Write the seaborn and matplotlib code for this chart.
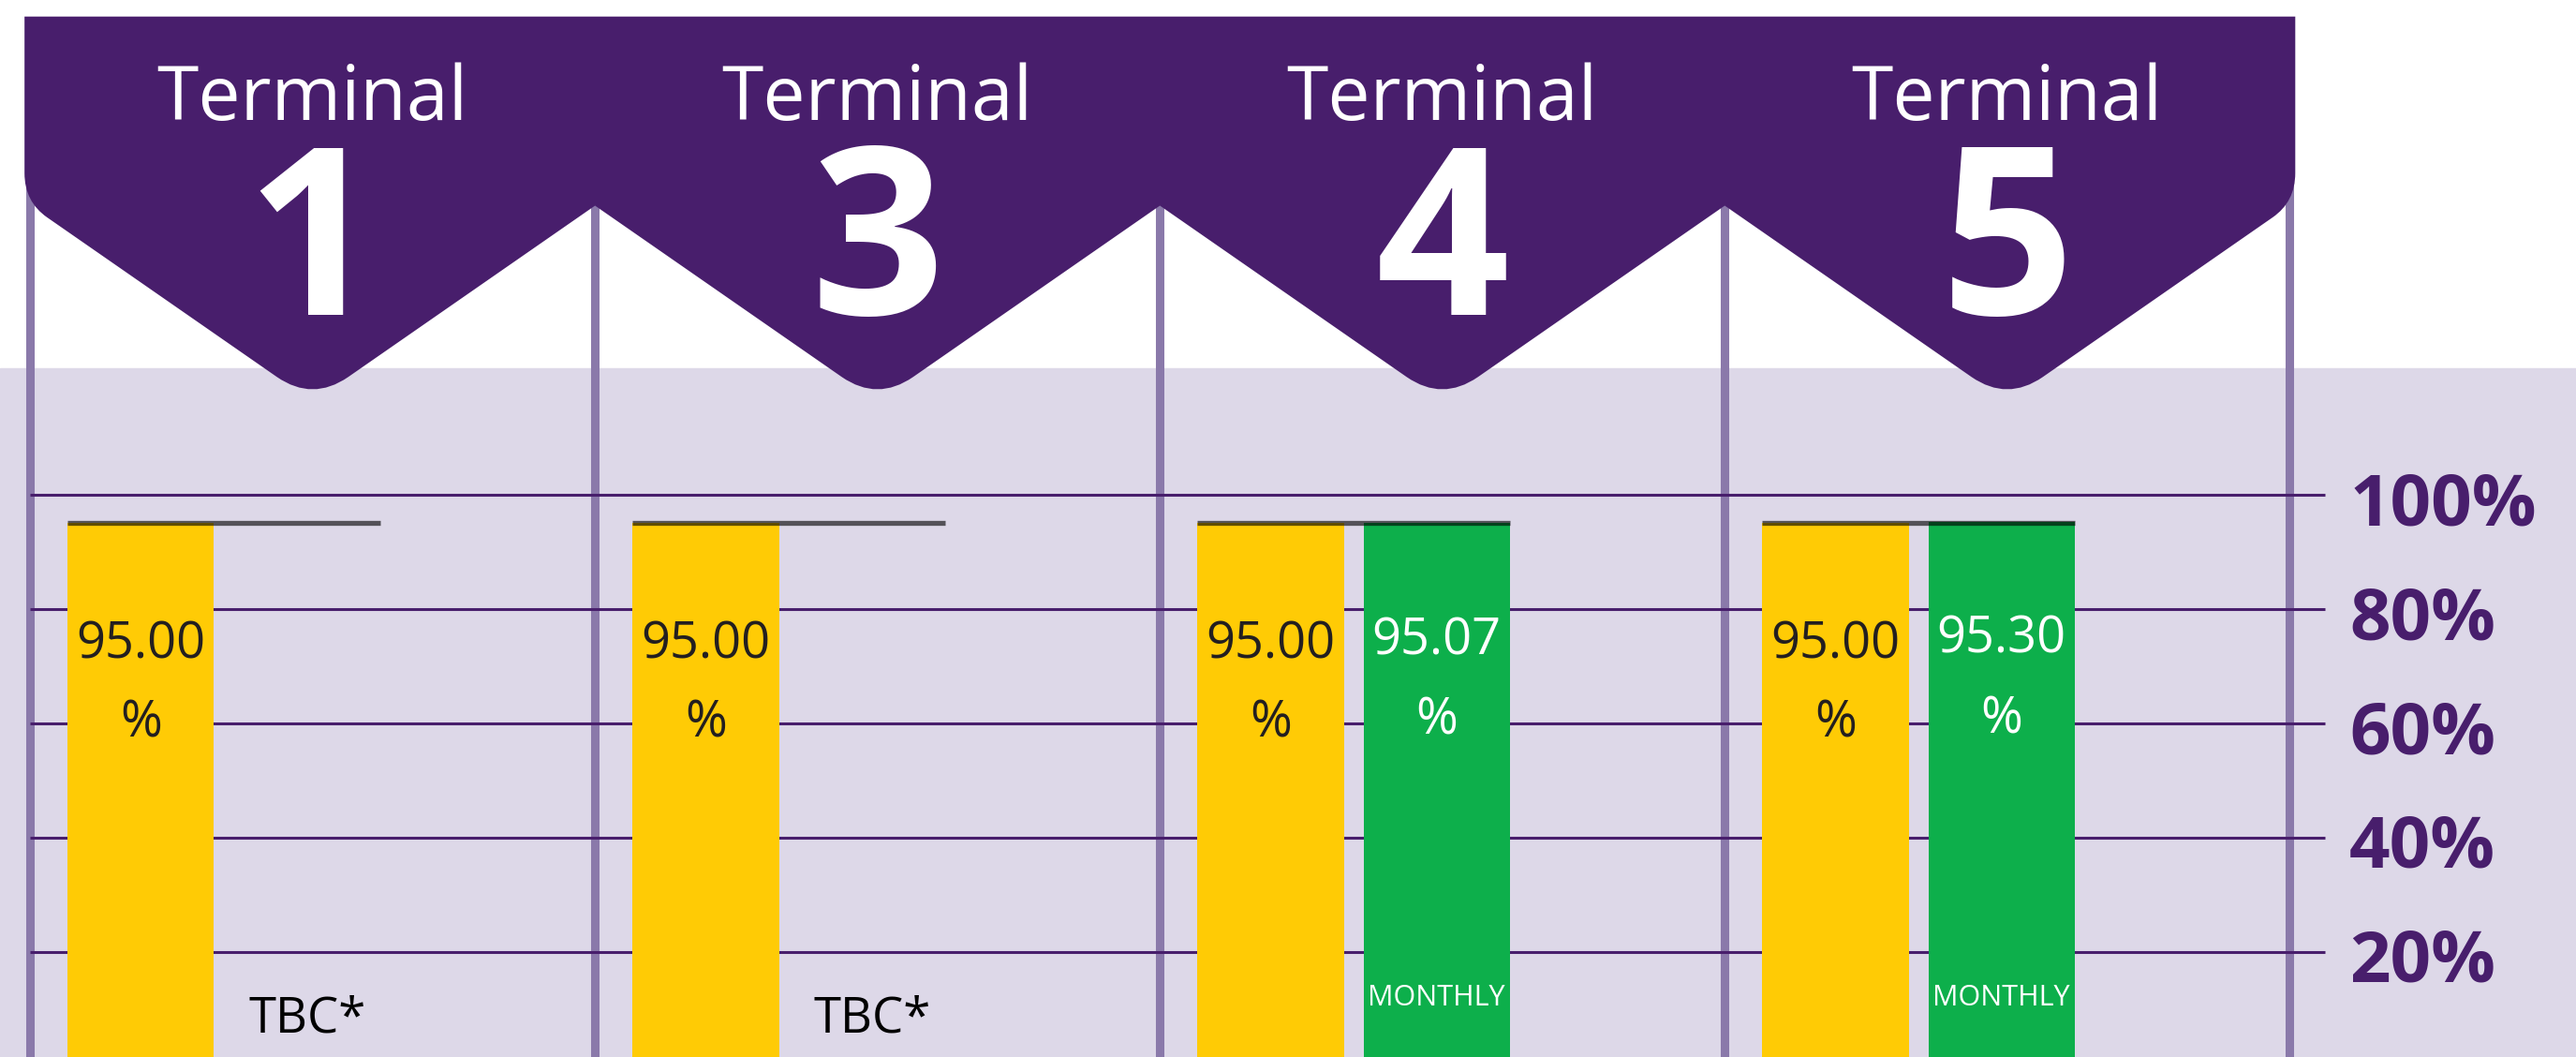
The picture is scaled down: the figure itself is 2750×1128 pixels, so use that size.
import numpy as np
import pandas as pd
import matplotlib.pyplot as plt
import seaborn as sns
from matplotlib.path import Path
from matplotlib.patches import PathPatch
from matplotlib import font_manager

terminals = ["1", "3", "4", "5"]
target_pct = [95.00, 95.00, 95.00, 95.00]
monthly_pct = [np.nan, np.nan, 95.07, 95.30]
target_labels = ["95.00", "95.00", "95.00", "95.00"]
monthly_labels = [None, None, "95.07", "95.30"]
missing_label = "TBC*"
series = ["Target", "Monthly"]
yticks = [20, 40, 60, 80, 100]
ytick_labels = ["20%", "40%", "60%", "80%", "100%"]

purple = "#481e6c"
bg = "#ddd8e8"
sep_col = "#8a79aa"
yellow = "#ffcb05"
green = "#0daf4b"

df = pd.DataFrame({
    "terminal": terminals * 2,
    "series": [series[0]] * len(terminals) + [series[1]] * len(terminals),
    "value": target_pct + monthly_pct,
})

plt.rcParams['font.family'] = ['Open Sans', 'DejaVu Sans']
installed = {f.name for f in font_manager.fontManager.ttflist}
if 'Liberation Sans Narrow' in installed:
    small_font, small_size = 'Liberation Sans Narrow', 25
else:
    small_font, small_size = 'Open Sans', 22

fig = plt.figure(figsize=(27.5, 11.28), dpi=100)
ax = fig.add_axes([0, 0, 1, 1])

sns.barplot(data=df, x="terminal", y="value", hue="series", hue_order=series,
            palette=[yellow, green], saturation=1, width=0.588, gap=0.119,
            errorbar=None, legend=False, ax=ax, zorder=3, linewidth=0)

ax.set_xlim(-0.3964, 4.164)
ax.set_ylim(1.56, 186.6)
ax.axis('off')

# lavender panel behind the chart
ax.axhspan(-10, 122.2, color=bg, zorder=0)

# column separators
seps = [k - 0.343 for k in range(len(terminals) + 1)]
ax.vlines(seps, -10, 155, color=sep_col, lw=6.5, zorder=1)

# gridlines + right hand labels
ax.hlines(yticks, seps[0], 3.72, color=purple, lw=2.2, zorder=1.5)
for t, lab in zip(yticks, ytick_labels):
    ax.text(3.763, t - 5.3, lab, ha='left', va='baseline', fontsize=55,
            fontweight='bold', color=purple)

# target line + labels
for i, p in enumerate(ax.containers[0]):
    left = p.get_x()
    right = 2 * i - left
    cx = left + p.get_width() / 2
    cx2 = 2 * i - cx
    ax.hlines(target_pct[i], left, right, color='black', alpha=0.62, lw=3.8, zorder=4)
    ax.text(cx, target_pct[i] - 23.6, target_labels[i], ha='center', va='baseline',
            fontsize=39, color='#231f20', zorder=5)
    ax.text(cx, target_pct[i] - 37.5, "%", ha='center', va='baseline',
            fontsize=39, color='#231f20', zorder=5)
    if monthly_labels[i] is None:
        ax.text(cx2, 5.9, missing_label, ha='center', va='baseline',
                fontsize=38, color='black', zorder=5)
    else:
        ax.text(cx2, monthly_pct[i] - 23.0, monthly_labels[i], ha='center', va='baseline',
                fontsize=39, color='white', zorder=5)
        ax.text(cx2, monthly_pct[i] - 37.0, "%", ha='center', va='baseline',
                fontsize=39, color='white', zorder=5)
        ax.text(cx2, 10.6, "MONTHLY", ha='center', va='baseline', fontsize=small_size,
                color='white', zorder=5, family=[small_font, 'DejaVu Sans'])

# header banner (one band with a chevron under each terminal)
top = 183.7
tip_y = 116.3
slope = 68.6
L = seps[0] - 0.01
R = seps[-1] + 0.01
mids = [s + 0.5 for s in seps[:-1]]
corner = tip_y + (mids[0] - L) * slope
verts = [(L, top), (R, top), (R, corner + 5),
         (R, corner), (R - 0.04, corner - 2.74)]
codes = [Path.MOVETO, Path.LINETO, Path.LINETO, Path.CURVE3, Path.CURVE3]
for k in range(len(mids) - 1, -1, -1):
    m = mids[k]
    verts += [(m + 0.063, tip_y + 4.3), (m, tip_y), (m - 0.063, tip_y + 4.3)]
    codes += [Path.LINETO, Path.CURVE3, Path.CURVE3]
    if k > 0:
        verts.append((seps[k], tip_y + 0.5 * slope))
        codes.append(Path.LINETO)
verts += [(L + 0.04, corner - 2.74), (L, corner), (L, corner + 5), (L, top)]
codes += [Path.LINETO, Path.CURVE3, Path.CURVE3, Path.CLOSEPOLY]
ax.add_patch(PathPatch(Path(verts, codes), facecolor=purple, edgecolor='none', zorder=6))

for m, t in zip(mids, terminals):
    ax.text(m, 165.6, "Terminal", ha='center', va='baseline', fontsize=58,
            color='white', zorder=7)
    ax.text(m, 131.4, t, ha='center', va='baseline', fontsize=180,
            fontweight='bold', color='white', zorder=7)

fig.savefig("out.png", dpi=100)
